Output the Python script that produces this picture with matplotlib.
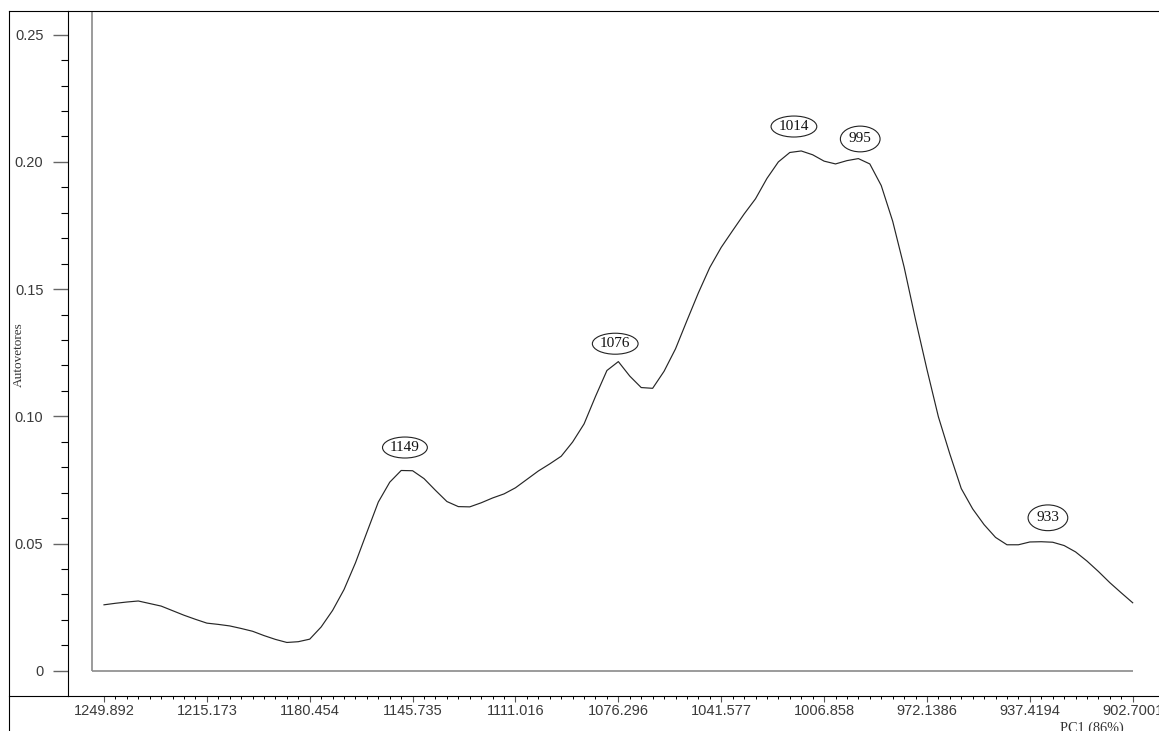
import numpy as np
import matplotlib
matplotlib.use("Agg")
import matplotlib.pyplot as plt
from matplotlib.lines import Line2D
from matplotlib.ticker import FixedLocator, NullFormatter

# ---- data -------------------------------------------------------------
# PC1 loadings on an evenly spaced wavenumber grid (1249.892 -> 902.7001 cm-1)
loadings = [
    0.0259, 0.0265, 0.0270, 0.0274, 0.0264, 0.0254, 0.0236, 0.0218, 0.0202, 0.0187,
    0.0182, 0.0176, 0.0166, 0.0155, 0.0138, 0.0123, 0.0111, 0.0114, 0.0124, 0.0172,
    0.0237, 0.0319, 0.0424, 0.0544, 0.0663, 0.0741, 0.0787, 0.0786, 0.0755, 0.0709,
    0.0665, 0.0645, 0.0644, 0.0660, 0.0679, 0.0695, 0.0719, 0.0752, 0.0785, 0.0813,
    0.0843, 0.0899, 0.0970, 0.1078, 0.1180, 0.1215, 0.1158, 0.1113, 0.1110, 0.1177,
    0.1265, 0.1376, 0.1485, 0.1585, 0.1664, 0.1730, 0.1795, 0.1855, 0.1935, 0.2000,
    0.2037, 0.2043, 0.2028, 0.2003, 0.1992, 0.2005, 0.2013, 0.1992, 0.1907, 0.1767,
    0.1587, 0.1380, 0.1184, 0.0998, 0.0852, 0.0716, 0.0636, 0.0574, 0.0524, 0.0495,
    0.0495, 0.0506, 0.0507, 0.0505, 0.0492, 0.0467, 0.0431, 0.0390, 0.0346, 0.0306,
    0.0267,
]
x_tick_labels = ["1249.892", "1215.173", "1180.454", "1145.735", "1111.016",
                 "1076.296", "1041.577", "1006.858", "972.1386", "937.4194",
                 "902.7001"]
y_tick_labels = ["0", "0.05", "0.10", "0.15", "0.20", "0.25"]
peak_labels = ["1149", "1076", "1014", "995", "933"]

x_ticks = [float(s) for s in x_tick_labels]
y_ticks = [float(s) for s in y_tick_labels]
wavenumbers = np.linspace(x_ticks[0], x_ticks[-1], len(loadings))
loadings = np.array(loadings)

# ---- figure layout (pixel based) --------------------------------------
W, H = 1159, 731
fig = plt.figure(figsize=(W / 100, H / 100), dpi=100)
fig.patch.set_facecolor("white")

ax_left_px, ax_top_px, ax_bottom_px = 67.5, 10.5, 695.5
ax = fig.add_axes([ax_left_px / W, 1 - ax_bottom_px / H,
                   (W - ax_left_px) / W + 0.01, (ax_bottom_px - ax_top_px) / H])

# scale: pixels per data unit
x_first_px, x_last_px = 104.0, 1132.7
xs = (x_ticks[0] - x_ticks[-1]) / (x_last_px - x_first_px)
y0_px, y_per_px = 670.7, 0.05 / 127.2
ax.set_xlim(x_ticks[0] + (x_first_px - ax_left_px) * xs,
            x_ticks[-1] - (W + 0.01 * W - x_last_px) * xs)
ax.set_ylim((y0_px - ax_bottom_px) * y_per_px, (y0_px - ax_top_px) * y_per_px)

for side in ("left", "top", "bottom"):
    ax.spines[side].set_linewidth(0.8)
    ax.spines[side].set_color("black")
ax.spines["right"].set_visible(False)

# inner grey axes of the plotting region
x_axis_start = x_ticks[0] + 12 * xs
ax.plot([x_axis_start, x_axis_start], [0, ax.get_ylim()[1]], color="#8a8a8a",
        lw=1.2, solid_capstyle="butt", zorder=1)
ax.plot([x_axis_start, x_ticks[-1]], [0, 0], color="#8a8a8a", lw=1.2,
        solid_capstyle="butt", zorder=1)

# the loading curve
ax.plot(wavenumbers, loadings, color="#262626", lw=0.85, zorder=3)

# peak annotations
label_offsets = {"1149": (2, 23), "1076": (-4, 19), "1014": (-9, 25),
                 "995": (1, 20), "933": (5, 24)}
wn_inc, ld_inc = wavenumbers[::-1], loadings[::-1]
for lab in peak_labels:
    wn = float(lab)
    val = np.interp(wn, wn_inc, ld_inc)
    dx, dy = label_offsets[lab]
    pad = 0.06 if len(lab) == 4 else 0.17
    ax.annotate(lab, xy=(wn, val), xytext=(dx, dy), textcoords="offset pixels",
                ha="center", va="center", fontsize=11, family="Liberation Serif",
                color="#111111",
                bbox=dict(boxstyle=f"ellipse,pad={pad}", fc="white", ec="#222222",
                          lw=0.8), zorder=4)

# ---- ticks ------------------------------------------------------------
tick_font = dict(family="Liberation Sans", size=10.5)
ax.xaxis.set_major_locator(FixedLocator(x_ticks))
ax.set_xticklabels(x_tick_labels, color="#3a3a3a", **tick_font)
x_minor = np.linspace(x_ticks[0], x_ticks[-1], 9 * (len(x_ticks) - 1) + 1)
ax.xaxis.set_minor_locator(FixedLocator(x_minor))
ax.xaxis.set_minor_formatter(NullFormatter())
ax.tick_params(axis="x", which="major", direction="out", length=4.3, width=0.8,
               color="#555555", pad=1.5)
ax.tick_params(axis="x", which="minor", direction="out", length=2.2, width=0.7,
               color="black")

ax.yaxis.set_major_locator(FixedLocator(y_ticks))
ax.set_yticklabels(y_tick_labels, color="#3a3a3a", **tick_font)
y_minor = np.round(np.arange(0, y_ticks[-1] + 1e-9, 0.01), 2)
ax.yaxis.set_minor_locator(FixedLocator(y_minor))
ax.yaxis.set_minor_formatter(NullFormatter())
ax.tick_params(axis="y", which="major", direction="out", length=10.8, width=1.0,
               color="#666666", pad=6.5)
ax.tick_params(axis="y", which="minor", direction="out", length=5.0, width=0.8,
               color="black")

# ---- outer frame and axis titles -------------------------------------
def px_line(x0, y0, x1, y1):
    fig.add_artist(Line2D([x0 / W, x1 / W], [1 - y0 / H, 1 - y1 / H],
                          transform=fig.transFigure, color="black", lw=0.8))

px_line(8.5, ax_top_px, 8.5, H + 2)
px_line(8.5, ax_top_px, ax_left_px, ax_top_px)
px_line(8.5, ax_bottom_px, ax_left_px, ax_bottom_px)

fig.text(18.5 / W, 1 - 354.5 / H, "Autovetores", rotation=90, ha="center",
         va="center", fontsize=9.5, family="Liberation Serif", color="#333333")
fig.text(1092 / W, 1 - 731.5 / H, "PC1 (86%)", ha="center", va="baseline",
         fontsize=10.3, family="Liberation Serif", color="#333333")

fig.savefig("out.png", dpi=100, facecolor="white")
